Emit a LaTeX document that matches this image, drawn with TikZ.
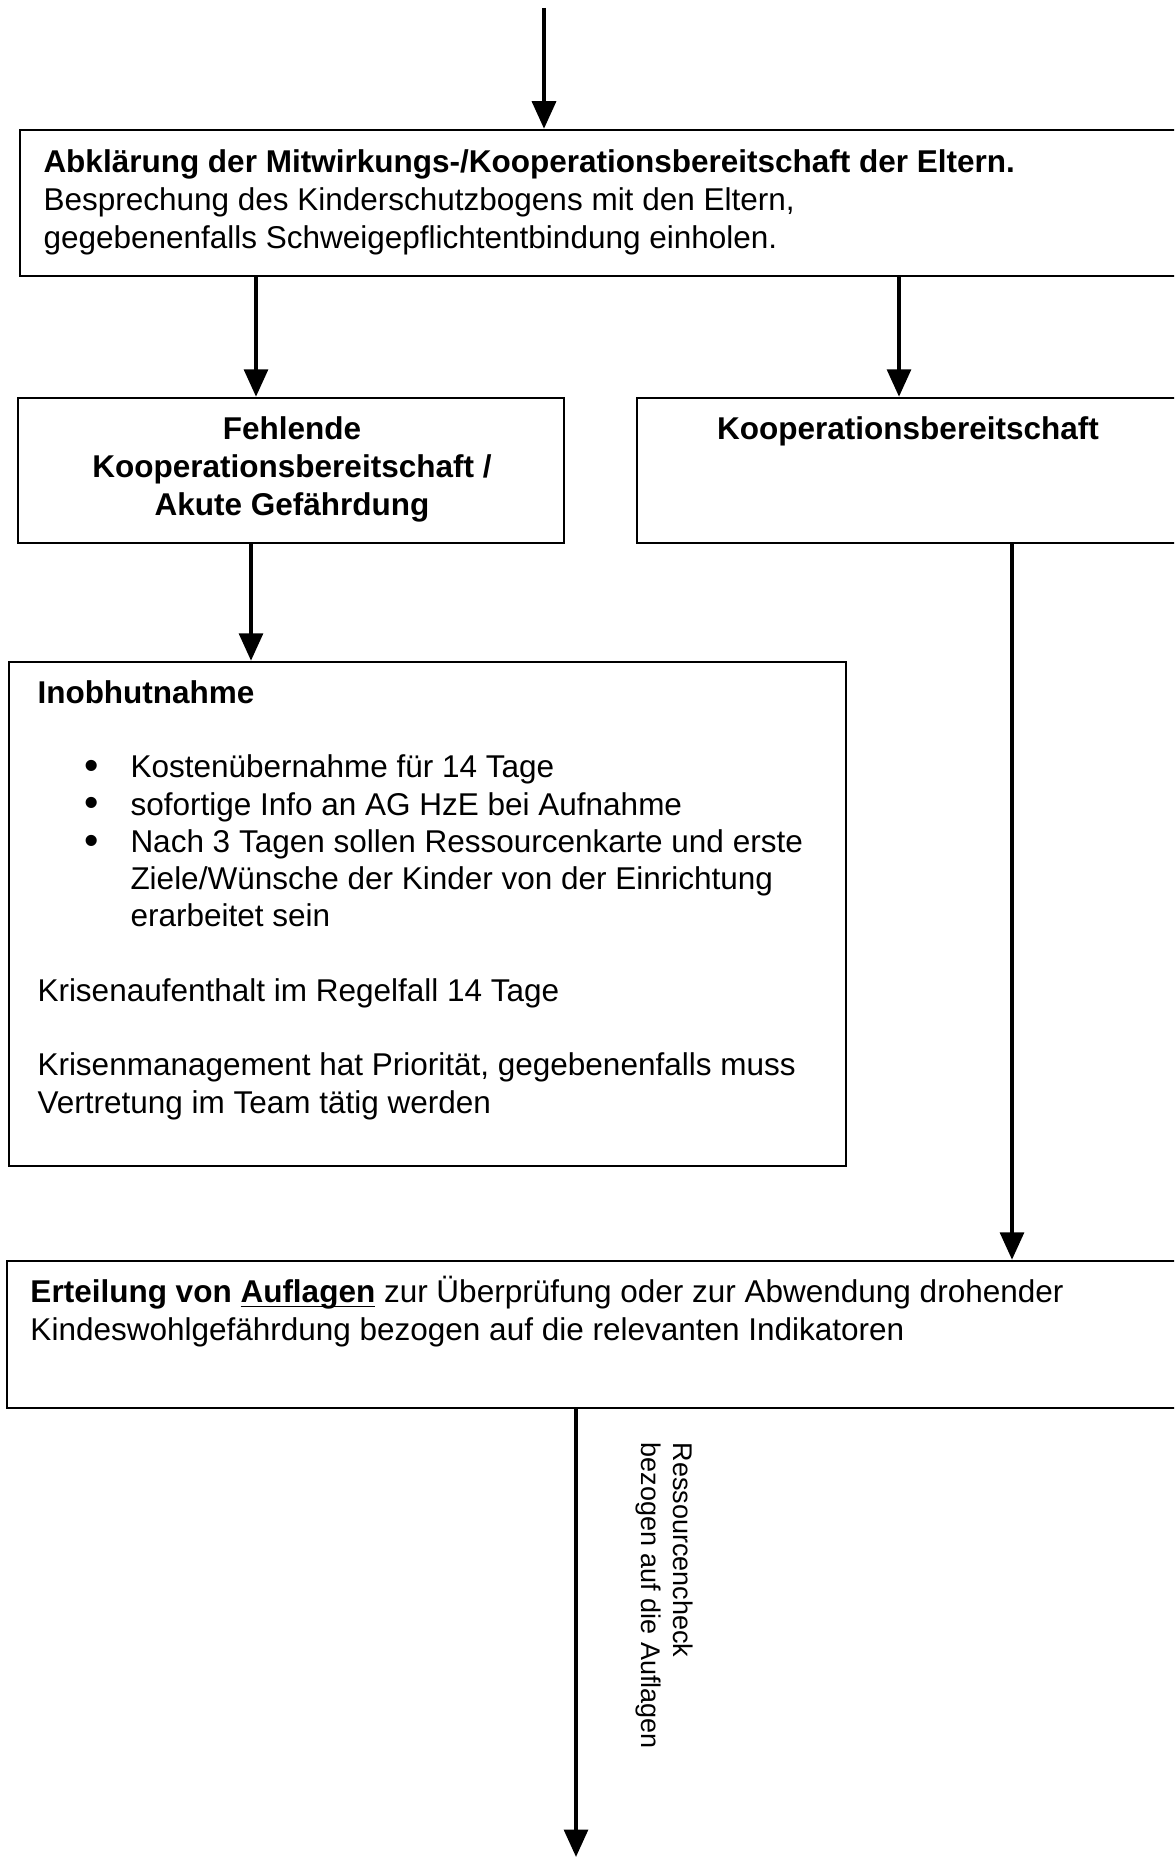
\documentclass[tikz,border=0pt]{standalone}
\usepackage{fontspec}
\setmainfont{Liberation Sans}
\usepackage{tikz}
\usetikzlibrary{positioning,arrows.meta,calc,fit}
\newcommand{\listdot}{\makebox[18.4pt][l]{\raisebox{-0.7pt}{\scalebox{1.3}{\textbullet}}}}

\begin{document}
\begin{tikzpicture}[x=0.4pt,y=-0.4pt,
  font=\fontsize{12.6}{15.2}\selectfont,
  box/.style={rectangle,draw,line width=1pt,inner sep=0pt},
  arr/.style={-{Triangle[length=11pt,width=9.5pt]},line width=1.6pt},
  txt/.style={anchor=north west,align=left,inner sep=0pt},
  ctxt/.style={anchor=north,align=center,inner sep=0pt,font=\fontsize{12.6}{15.2}\selectfont\bfseries},
  sidetxt/.style={anchor=north west,align=left,inner sep=0pt,rotate=-90,font=\fontsize{10.8}{12.8}\selectfont},
]
\useasboundingbox (0,0) rectangle (1174,1859);
\clip (0,0) rectangle (1174,1859);

% boxes
\node[box,fit={(20,130) (1185,276)}] (abkl) {};
\node[box,fit={(18,398) (564,543)}] (fehl) {};
\node[box,fit={(637,398) (1185,543)}] (koop) {};
\node[box,fit={(9,662) (846,1166)}] (inob) {};
\node[box,fit={(7,1261) (1185,1408)}] (ert) {};

% texts
\node[txt] (abkltxt) at (43,149) {\textbf{Abklärung der Mitwirkungs-/Kooperationsbereitschaft der Eltern.}\\
  Besprechung des Kinderschutzbogens mit den Eltern,\\
  gegebenenfalls Schweigepflichtentbindung einholen.};
\node[ctxt] (fehltxt) at (292,416) {Fehlende\\Kooperationsbereitschaft /\\Akute Gefährdung};
\node[ctxt] (kooptxt) at (908,416) {Kooperationsbereitschaft};
\node[txt,font=\fontsize{12.6}{14.9}\selectfont] (inobtxt) at (37,680) {\textbf{Inobhutnahme}\\[14.9pt]
  \hspace*{18.8pt}\listdot Kostenübernahme für 14 Tage\\
  \hspace*{18.8pt}\listdot sofortige Info an AG HzE bei Aufnahme\\
  \hspace*{18.8pt}\listdot Nach 3 Tagen sollen Ressourcenkarte und erste\\
  \hspace*{37.2pt}Ziele/Wünsche der Kinder von der Einrichtung\\
  \hspace*{37.2pt}erarbeitet sein\\[14.9pt]
  Krisenaufenthalt im Regelfall 14 Tage\\[14.9pt]
  Krisenmanagement hat Priorität, gegebenenfalls muss\\
  Vertretung im Team tätig werden};
\node[txt] (erttxt) at (30,1276) {\textbf{Erteilung von \underline{\smash{Auflagen}}} zur Überprüfung oder zur Abwendung drohender\\
  Kindeswohlgefährdung bezogen auf die relevanten Indikatoren};

% arrows
\coordinate (start) at (544,8);
\coordinate (fehlin) at (fehl.north -| 256,0);
\coordinate (koopin) at (koop.north -| 899,0);
\coordinate (inobin) at (inob.north -| 251,0);
\coordinate (ertin) at (ert.north -| 1012,0);
\coordinate (finish) at (576,1857);
\draw[arr] (start) -- (start |- abkl.north);
\draw[arr] (abkl.south -| fehlin) -- (fehlin);
\draw[arr] (abkl.south -| koopin) -- (koopin);
\draw[arr] (fehl.south -| inobin) -- (inobin);
\draw[arr] (koop.south -| ertin) -- (ertin);
\draw[arr] (ert.south -| finish) -- (finish);
\node[sidetxt] (check) at ($(ert.south -| finish)+(118,33)$) {Ressourcencheck\\bezogen auf die Auflagen};
\end{tikzpicture}
\end{document}
